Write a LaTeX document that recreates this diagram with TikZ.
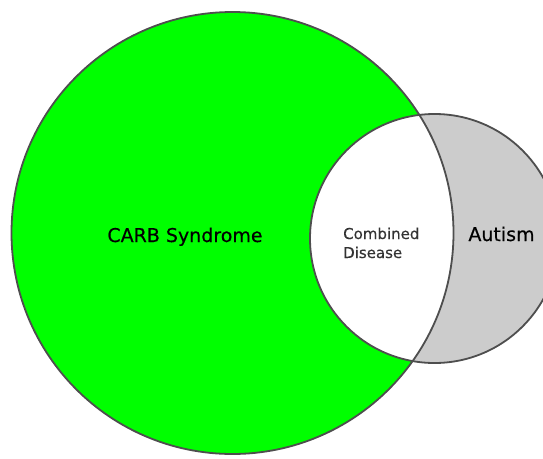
\documentclass[tikz,border=0pt]{standalone}
\usepackage{fontspec}
\setmainfont{DejaVu Sans}
\usetikzlibrary{positioning}
\definecolor{carbgreen}{HTML}{00FF00}
\definecolor{autgray}{HTML}{CCCCCC}
\definecolor{rim}{HTML}{4E4E4E}
\tikzstyle{rimline}=[line width=1.8pt,rim]
\tikzstyle{setname}=[inner sep=0pt,anchor=base,text=black,font=\fontsize{19}{23}\selectfont\addfontfeature{FakeBold=0.4}]
\def\Rbig{221pt}  % carb circle
\def\Rsmall{124.5pt} % autism circle

\begin{document}
\begin{tikzpicture}[x=1pt,y=-1pt]
  \clip (0,0) rectangle (543,458);
  \fill[white] (0,0) rectangle (543,458);
  \coordinate (C) at (232.5,233);
  \coordinate (A) at (434.5,238.5);

  % SETS
  \fill[carbgreen] (C) circle (\Rbig);
  \fill[autgray] (A) circle (\Rsmall);
  \begin{scope}
    \clip (C) circle (\Rbig);
    \fill[white] (A) circle (\Rsmall);
  \end{scope}

  % RIMS
  \draw[rimline] (C) circle (\Rbig);
  \draw[rimline] (A) circle (\Rsmall);

  % LABELS
  \node[setname] (carb) at (185,242) {CARB Syndrome};
  \node[setname] (autism) at (501.5,241) {Autism};
  \node[inner sep=0pt,anchor=base west,align=left,text=black!80,
        font=\fontsize{15}{19}\selectfont\addfontfeature{FakeBold=0.3}] (both) at (343,258) {Combined\\Disease};
\end{tikzpicture}
\end{document}
